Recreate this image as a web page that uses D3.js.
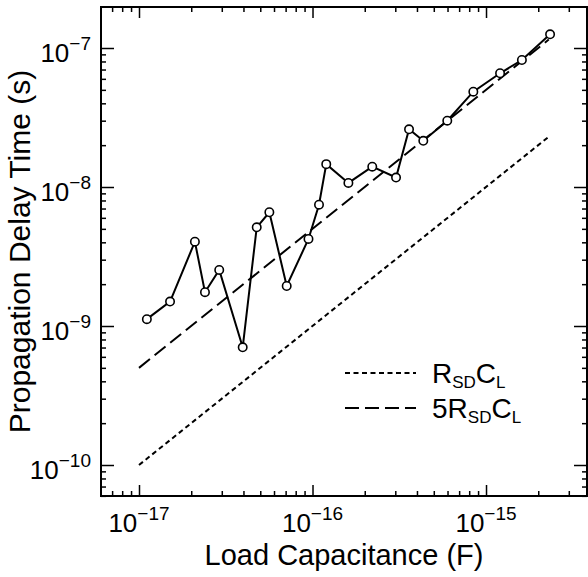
<!DOCTYPE html>
<html>
<meta charset="utf-8">
<style>
body { margin: 0; background: #fff; }
svg { font-family: "Liberation Sans", Arial, Helvetica, sans-serif; }
.frame { fill: none; stroke: #000; stroke-width: 2; }
.axis path { display: none; }
.axis line { stroke: #000; stroke-width: 1.5; }
</style>
<body>
<script src="https://d3js.org/d3.v7.min.js"></script>
<script>
// measured points
var capF = [1.11e-17, 1.51e-17, 2.10e-17, 2.40e-17, 2.90e-17, 3.96e-17, 4.77e-17, 5.64e-17,
            7.10e-17, 9.48e-17, 1.09e-16, 1.20e-16, 1.61e-16, 2.21e-16, 3.03e-16, 3.60e-16,
            4.35e-16, 5.98e-16, 8.45e-16, 1.205e-15, 1.61e-15, 2.34e-15];
var delayS = [1.12e-9, 1.50e-9, 4.04e-9, 1.75e-9, 2.53e-9, 7.03e-10, 5.13e-9, 6.58e-9,
              1.94e-9, 4.23e-9, 7.46e-9, 1.46e-8, 1.07e-8, 1.40e-8, 1.17e-8, 2.60e-8,
              2.15e-8, 3.00e-8, 4.85e-8, 6.58e-8, 8.20e-8, 1.255e-7];

// model lines (end points)
var lineCap = [1e-17, 2.3e-15];
var rcDelay = [1e-10, 2.3e-8];
var rc5Delay = [5e-10, 1.15e-7];

// tick labels
var xMajor = [1e-17, 1e-16, 1e-15],
    xExp = ["\u221217", "\u221216", "\u221215"];
var yMajor = [1e-10, 1e-9, 1e-8, 1e-7],
    yExp = ["\u221210", "\u22129", "\u22128", "\u22127"];

var W = 588, H = 577;
var pLeft = 101, pRight = 587, pTop = 7, pBottom = 496;

var x = d3.scaleLog().domain([Math.pow(10, -17.219), Math.pow(10, -14.418)]).range([pLeft, pRight]);
var y = d3.scaleLog().domain([Math.pow(10, -10.223), Math.pow(10, -6.705)]).range([pBottom, pTop]);

var svg = d3.select("body").append("svg")
    .attr("width", W)
    .attr("height", H);

// ticks, pointing inward on all four sides
function ticks(axisFn, scale, vals, len, tr) {
  svg.append("g")
      .attr("class", "axis")
      .attr("transform", tr)
      .call(axisFn(scale).tickValues(vals).tickSize(len).tickFormat(""));
}
function notMajor(list) {
  return function(d) {
    return !list.some(function(m) { return Math.abs(d / m - 1) < 1e-6; });
  };
}
var xMinor = x.ticks().filter(notMajor(xMajor));
var yMinor = y.ticks().filter(notMajor(yMajor));

ticks(d3.axisBottom, x, xMinor, -5, "translate(0," + pBottom + ")");
ticks(d3.axisBottom, x, xMajor, -11, "translate(0," + pBottom + ")");
ticks(d3.axisTop, x, xMinor, -5, "translate(0," + pTop + ")");
ticks(d3.axisTop, x, xMajor, -11, "translate(0," + pTop + ")");
ticks(d3.axisLeft, y, yMinor, -5, "translate(" + pLeft + ",0)");
ticks(d3.axisLeft, y, yMajor, -13, "translate(" + pLeft + ",0)");
ticks(d3.axisRight, y, yMinor, -5, "translate(" + pRight + ",0)");
ticks(d3.axisRight, y, yMajor, -13, "translate(" + pRight + ",0)");

svg.append("rect")
    .attr("class", "frame")
    .attr("x", pLeft).attr("y", pTop)
    .attr("width", pRight - pLeft).attr("height", pBottom - pTop);

// tick labels with superscript exponents
var xl = svg.selectAll(".xlab")
    .data(xMajor)
  .enter().append("text")
    .attr("class", "xlab")
    .attr("x", function(d) { return x(d); })
    .attr("y", 532)
    .attr("text-anchor", "middle")
    .style("font-size", "26px");
xl.append("tspan").text("10");
xl.append("tspan")
    .attr("dy", -12)
    .style("font-size", "19px")
    .text(function(d, i) { return xExp[i]; });

var yl = svg.selectAll(".ylab")
    .data(yMajor)
  .enter().append("text")
    .attr("class", "ylab")
    .attr("x", 91)
    .attr("y", function(d) { return y(d) + 14; })
    .attr("text-anchor", "end")
    .style("font-size", "26px");
yl.append("tspan").text("10");
yl.append("tspan")
    .attr("dy", -12)
    .style("font-size", "19px")
    .text(function(d, i) { return yExp[i]; });

// axis titles
svg.append("text")
    .attr("x", (pLeft + pRight) / 2)
    .attr("y", 565)
    .attr("text-anchor", "middle")
    .style("font-size", "29px")
    .text("Load Capacitance (F)");

svg.append("text")
    .attr("transform", "translate(30," + ((pTop + pBottom) / 2) + ") rotate(-90)")
    .attr("text-anchor", "middle")
    .style("font-size", "30px")
    .text("Propagation Delay Time (s)");

// model lines
var line = d3.line()
    .x(function(d) { return x(d[0]); })
    .y(function(d) { return y(d[1]); });

svg.append("path")
    .datum(d3.zip(lineCap, rcDelay))
    .attr("d", line)
    .attr("fill", "none")
    .attr("stroke", "#000")
    .attr("stroke-width", 2)
    .attr("stroke-dasharray", "5,3.5");

svg.append("path")
    .datum(d3.zip(lineCap, rc5Delay))
    .attr("d", line)
    .attr("fill", "none")
    .attr("stroke", "#000")
    .attr("stroke-width", 2)
    .attr("stroke-dasharray", "14,6");

// measured data
var pts = d3.zip(capF, delayS);
svg.append("path")
    .datum(pts)
    .attr("d", line)
    .attr("fill", "none")
    .attr("stroke", "#000")
    .attr("stroke-width", 2);

svg.selectAll(".dot")
    .data(pts)
  .enter().append("circle")
    .attr("class", "dot")
    .attr("cx", function(d) { return x(d[0]); })
    .attr("cy", function(d) { return y(d[1]); })
    .attr("r", 4.2)
    .attr("fill", "#fff")
    .attr("stroke", "#000")
    .attr("stroke-width", 1.6);

// legend
var legend = [
  {dash: "5,3.5", pre: "", y: 373},
  {dash: "14,6", pre: "5", y: 408}
];
var lg = svg.selectAll(".legend")
    .data(legend)
  .enter().append("g")
    .attr("class", "legend")
    .attr("transform", function(d) { return "translate(0," + d.y + ")"; });

lg.append("line")
    .attr("x1", 345).attr("x2", 416)
    .attr("stroke", "#000")
    .attr("stroke-width", 2)
    .attr("stroke-dasharray", function(d) { return d.dash; });

var lt = lg.append("text")
    .attr("x", 432)
    .attr("y", 10)
    .style("font-size", "28px");
lt.append("tspan").text(function(d) { return d.pre + "R"; });
lt.append("tspan").attr("dy", 5).style("font-size", "17px").text("SD");
lt.append("tspan").attr("dy", -5).text("C");
lt.append("tspan").attr("dy", 5).style("font-size", "17px").text("L");
</script>
</body>
</html>
